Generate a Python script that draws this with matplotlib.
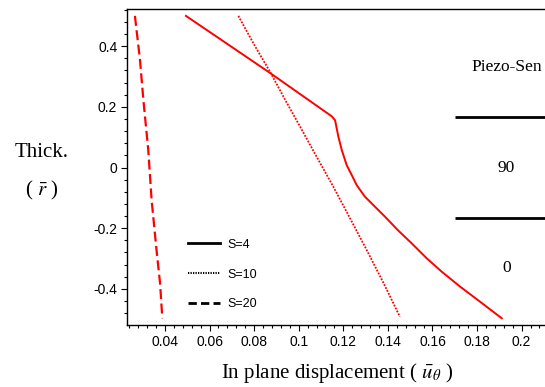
import matplotlib
matplotlib.use("Agg")
import matplotlib.pyplot as plt
from matplotlib.lines import Line2D
from matplotlib.ticker import MultipleLocator

plt.rcParams["mathtext.fontset"] = "stix"

RED = "#FF0000"
BLACK = "#000000"
SERIF = ["Liberation Serif", "DejaVu Serif"]
SANS = ["Liberation Sans", "DejaVu Sans"]

# ── Data ──────────────────────────────────────────────────────────────────────
s4_u = [0.0494, 0.0871, 0.1148, 0.1163, 0.1178, 0.1193, 0.1215, 0.1238,
        0.1260, 0.1297, 0.1335, 0.1387, 0.1447, 0.1507, 0.1574, 0.1641,
        0.1723, 0.1813, 0.1911]
s4_r = [0.500, 0.312, 0.169, 0.156, 0.101, 0.058, 0.008, -0.025,
        -0.058, -0.096, -0.124, -0.162, -0.208, -0.250, -0.299, -0.343,
        -0.392, -0.442, -0.497]

s10_u = [0.0729, 0.0800, 0.0871, 0.0940, 0.1006, 0.1080, 0.1155, 0.1230,
         0.1305, 0.1380, 0.1454]
s10_r = [0.500, 0.405, 0.316, 0.222, 0.135, 0.036, -0.063, -0.167,
         -0.272, -0.380, -0.492]

s20_u = [0.0265, 0.0288, 0.0303, 0.0325, 0.0340, 0.0362, 0.0378, 0.0388]
s20_r = [0.500, 0.354, 0.223, 0.058, -0.107, -0.272, -0.382, -0.497]

legend_labels = ["S=4", "S=10", "S=20"]

x_ticks = [0.04, 0.06, 0.08, 0.1, 0.12, 0.14, 0.16, 0.18, 0.2]
x_tick_labels = ["0.04", "0.06", "0.08", "0.1", "0.12", "0.14", "0.16", "0.18", "0.2"]
y_ticks = [-0.4, -0.2, 0, 0.2, 0.4]
y_tick_labels = ["-0.4", "-0.2", "0", "0.2", "0.4"]

layer_bounds = [1 / 6, -1 / 6]
layer_names = ["Piezo-Sen", "90", "0"]
layer_name_r = [0.33, 0.0, -0.33]

# ── Figure ────────────────────────────────────────────────────────────────────
fig = plt.figure(figsize=(5.45, 3.87), dpi=100)
fig.patch.set_facecolor("white")
ax = fig.add_axes([0.233, 0.1602, 0.772, 0.8165])

ax.plot(s4_u, s4_r, color=RED, lw=1.4, linestyle="-")
ax.plot(s10_u, s10_r, color=RED, lw=1.3, linestyle=(0, (1, 0.8)))
ax.plot(s20_u, s20_r, color=RED, lw=1.6, linestyle=(0, (4.5, 2)))

ax.set_xlim(0.02295, 0.2117)
ax.set_ylim(-0.519, 0.5226)

# layer annotation on the right
ax.hlines(layer_bounds, 0.170, 0.2117, colors=BLACK, lw=2)
for name, r in zip(layer_names, layer_name_r):
    ax.text(0.1932, r, name, ha="center", va="center", fontsize=12.5,
            family=SERIF)

# legend in black
handles = [
    Line2D([], [], color=BLACK, lw=2, linestyle="-"),
    Line2D([], [], color=BLACK, lw=1.5, linestyle=(0, (0.6, 0.6))),
    Line2D([], [], color=BLACK, lw=2, linestyle=(0, (3, 1.5))),
]
leg = ax.legend(handles, legend_labels, loc="lower left",
                bbox_to_anchor=(0.145, 0.046), frameon=False,
                prop={"family": SANS, "size": 9}, handlelength=2.6,
                handletextpad=0.55, labelspacing=1.43, borderpad=0,
                borderaxespad=0)

# ticks
ax.set_xticks(x_ticks)
ax.set_xticklabels(x_tick_labels, family=SANS, fontsize=10)
ax.set_yticks(y_ticks)
ax.set_yticklabels(y_tick_labels, family=SANS, fontsize=10)
ax.xaxis.set_minor_locator(MultipleLocator(0.004))
ax.yaxis.set_minor_locator(MultipleLocator(0.04))
ax.tick_params(which="major", length=4, width=0.8, pad=3, direction="out")
ax.tick_params(which="minor", length=2, width=0.8, direction="out")
ax.tick_params(axis="x", which="both", top=False)
ax.tick_params(axis="y", which="both", right=False)

ax.spines["right"].set_visible(False)
for side in ("left", "bottom", "top"):
    ax.spines[side].set_linewidth(1.0)

# axis labels
ax.set_xlabel(r"In plane displacement ( $\bar{u}_{\theta}$ )", family=SERIF,
              fontsize=15, labelpad=9)
fig.text(0.077, 0.607, "Thick.", ha="center", va="center", family=SERIF,
         fontsize=15)
fig.text(0.077, 0.509, r"( $\bar{r}$ )", ha="center", va="center",
         family=SERIF, fontsize=15)

fig.savefig("out.png", dpi=100, facecolor="white")
plt.close(fig)
